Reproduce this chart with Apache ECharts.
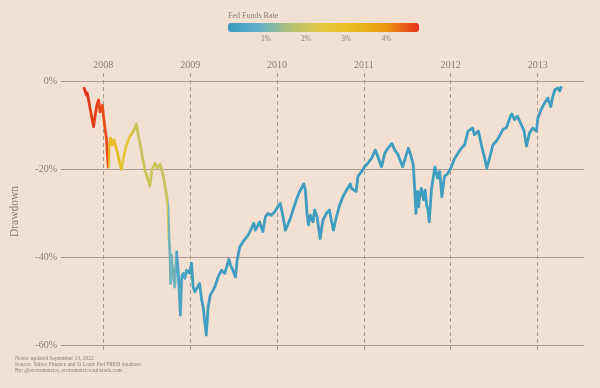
<!DOCTYPE html>
<html><head><meta charset="utf-8">
<script src="https://cdn.jsdelivr.net/npm/echarts@6/dist/echarts.min.js"></script>
<style>html,body{margin:0;padding:0;background:#f2e0d3}#c{width:600px;height:388px}</style>
</head><body><div id="c"></div>
<script>
const dates = ['2007-10-11','2007-10-22','2007-10-25','2007-10-31','2007-11-09','2007-11-14','2007-11-21','2007-11-28','2007-12-05','2007-12-12','2007-12-18','2007-12-24','2007-12-28',
'2008-01-02','2008-01-09','2008-01-14','2008-01-17','2008-01-22','2008-01-25','2008-02-01','2008-02-07','2008-02-15','2008-02-22','2008-02-29','2008-03-10','2008-03-17','2008-03-24','2008-03-31','2008-04-10','2008-04-21','2008-05-01','2008-05-12','2008-05-19','2008-05-27','2008-06-06','2008-06-13','2008-06-24','2008-07-03','2008-07-15','2008-07-23','2008-08-06','2008-08-15','2008-08-27','2008-09-05','2008-09-12','2008-09-22','2008-09-29','2008-10-03','2008-10-08','2008-10-10','2008-10-13','2008-10-16','2008-10-22','2008-10-27','2008-11-04','2008-11-11','2008-11-20','2008-11-26','2008-12-02','2008-12-09','2008-12-16','2008-12-29',
'2009-01-06','2009-01-13','2009-01-20','2009-02-09','2009-02-17','2009-02-24','2009-03-09','2009-03-17','2009-03-26','2009-04-07','2009-04-14','2009-04-28','2009-05-12','2009-05-26','2009-06-12','2009-06-19','2009-06-26','2009-07-10','2009-07-17','2009-07-28','2009-08-11','2009-08-18','2009-09-01','2009-09-15','2009-09-25','2009-10-02','2009-10-19','2009-11-02','2009-11-13','2009-11-24','2009-12-08','2009-12-22',
'2010-01-04','2010-01-14','2010-01-26','2010-02-05','2010-02-23','2010-03-09','2010-03-23','2010-04-06','2010-04-23','2010-04-30','2010-05-07','2010-05-13','2010-05-21','2010-06-01','2010-06-08','2010-06-18','2010-07-01','2010-07-13','2010-07-27','2010-08-09','2010-08-17','2010-08-26','2010-09-08','2010-09-21','2010-10-05','2010-10-20','2010-11-05','2010-11-10','2010-11-29','2010-12-07','2010-12-22',
'2011-01-04','2011-01-18','2011-02-02','2011-02-18','2011-03-01','2011-03-16','2011-03-30','2011-04-12','2011-04-29','2011-05-11','2011-05-25','2011-06-13','2011-06-24','2011-07-07','2011-07-15','2011-07-28','2011-08-03','2011-08-08','2011-08-15','2011-08-19','2011-08-24','2011-08-31','2011-09-09','2011-09-16','2011-09-22','2011-09-28','2011-10-03','2011-10-12','2011-10-27','2011-11-07','2011-11-16','2011-11-25','2011-12-06','2011-12-20',
'2012-01-04','2012-01-18','2012-02-01','2012-02-15','2012-02-29','2012-03-14','2012-04-02','2012-04-10','2012-04-27','2012-05-09','2012-05-23','2012-06-01','2012-06-13','2012-06-27','2012-07-11','2012-07-25','2012-08-08','2012-08-22','2012-09-06','2012-09-14','2012-09-26','2012-10-08','2012-10-24','2012-11-05','2012-11-15','2012-11-28','2012-12-12','2012-12-27',
'2013-01-02','2013-01-16','2013-01-30','2013-02-13','2013-02-25','2013-03-06','2013-03-15','2013-03-27','2013-04-04','2013-04-11'];
const drawdown = [-1.4,-3.2,-2.7,-4.3,-7.0,-8.5,-10.4,-7.7,-5.5,-4.3,-7.0,-7.3,-5.5,
-8.1,-11.1,-13.0,-15.7,-19.6,-14.9,-13.0,-14.5,-13.4,-14.9,-16.1,-18.7,-20.1,-18.0,-16.1,-14.2,-12.7,-11.9,-10.8,-9.8,-12.3,-14.9,-17.2,-20.2,-21.7,-23.9,-20.2,-18.7,-19.8,-18.9,-20.6,-22.5,-25.5,-28.6,-35.4,-39.9,-46.0,-39.5,-41.5,-44.0,-46.8,-38.8,-43.0,-53.2,-44.5,-43.7,-44.8,-43.0,-43.7,
-41.4,-46.8,-47.9,-46.0,-49.5,-51.3,-57.7,-51.3,-48.6,-47.5,-46.8,-44.5,-43.0,-43.7,-40.5,-41.8,-42.6,-44.5,-40.7,-37.7,-36.5,-36.9,-35.0,-33.5,-32.3,-33.9,-32.0,-34.2,-30.8,-30.1,-30.5,-29.7,
-28.6,-27.8,-30.8,-33.9,-31.6,-29.3,-27.0,-25.1,-23.4,-24.8,-30.1,-32.7,-30.5,-32.0,-29.3,-30.8,-35.8,-31.6,-30.1,-29.3,-31.6,-33.9,-30.8,-28.2,-26.3,-24.8,-23.4,-24.4,-25.1,-21.7,-20.6,
-19.5,-18.7,-17.6,-15.7,-17.2,-19.5,-16.4,-15.3,-14.2,-15.7,-16.8,-19.5,-17.6,-15.3,-16.4,-19.1,-24.8,-30.1,-25.1,-28.6,-26.0,-24.4,-27.0,-24.8,-28.2,-29.3,-32.0,-24.8,-19.5,-22.1,-20.6,-26.3,-21.7,-21.0,
-19.5,-17.6,-16.4,-15.3,-14.5,-11.4,-10.7,-12.2,-11.4,-14.5,-17.5,-19.8,-17.5,-14.5,-13.7,-12.5,-11.0,-10.7,-8.4,-7.5,-8.8,-8.0,-9.9,-11.4,-14.8,-11.8,-10.7,-11.4,
-8.4,-6.5,-5.0,-3.9,-5.8,-3.5,-2.0,-1.6,-2.3,-1.2];

const rateStarts = ['2007-07-01','2007-11-01','2007-12-11','2008-01-22','2008-01-30','2008-03-18','2008-04-30','2008-09-29','2008-11-01','2008-12-16'];
const rateValues = [4.8,4.7,4.6,3.5,3.0,2.4,2.0,1.0,0.4,0.15];

const yearTicks = ['2008-01-01','2009-01-01','2010-01-01','2011-01-01','2012-01-01','2013-01-01'];
const yTicks = [0,-20,-40,-60];
const rateTicks = [1,2,3,4];
const rateMin = 0.057, rateMax = 4.81;

const palette = ['#3a9bbf','#63b0cb','#b5c274','#e4c73c','#e8bb1e','#ec9514','#e6311c'];
const txt = '#8d8079', gridCol = '#aa9b93', font = 'Liberation Serif';

const ts = s => Date.UTC(+s.slice(0,4), +s.slice(5,7)-1, +s.slice(8,10));
function hex(h){return [1,3,5].map(i=>parseInt(h.slice(i,i+2),16));}
function rateColor(r){
  let t = Math.max(0, Math.min(1, (r-rateMin)/(rateMax-rateMin))) * (palette.length-1);
  const i = Math.min(Math.floor(t), palette.length-2), f = t - i;
  const a = hex(palette[i]), b = hex(palette[i+1]);
  return 'rgb(' + a.map((v,k)=>Math.round(v+(b[k]-v)*f)).join(',') + ')';
}
const pieces = rateStarts.map((d,i)=>{
  const p = {color: rateColor(rateValues[i])};
  if (i > 0) p.gte = ts(d);
  if (i < rateStarts.length-1) p.lt = ts(rateStarts[i+1]);
  return p;
});

const chart = echarts.init(document.getElementById('c'), null, {renderer:'canvas'});
chart.setOption({
  animation: false,
  backgroundColor: '#f2e0d3',
  textStyle: {fontFamily: font},
  grid: [
    {left: 61, right: 16, top: 73, bottom: 38},
    {left: 228, width: 191, top: 23, height: 9}
  ],
  xAxis: [{
    type: 'value', gridIndex: 0, position: 'top',
    min: ts('2007-07-07'), max: ts('2013-07-15'),
    axisLine: {show: false},
    axisTick: {show: false, customValues: yearTicks.map(ts)},
    axisLabel: {customValues: yearTicks.map(ts), color: txt, fontSize: 10, fontFamily: font, margin: 3,
      formatter: v => String(new Date(v).getUTCFullYear())},
    splitLine: {show: true, lineStyle: {color: gridCol, width: 1, type: [4,3]}}
  }, {
    type: 'value', gridIndex: 1, min: rateMin, max: rateMax,
    axisLine: {show: false}, axisTick: {show: false, customValues: rateTicks},
    splitLine: {show: false},
    axisLabel: {customValues: rateTicks, color: txt, fontSize: 7.5, fontFamily: font, margin: 3, formatter: v => v + '%'}
  }],
  yAxis: [{
    type: 'value', gridIndex: 0, min: -61.1, max: 1.8,
    name: 'Drawdown', nameLocation: 'middle', nameGap: 40,
    nameTextStyle: {color: txt, fontSize: 11.5, fontFamily: font},
    axisLine: {show: false},
    axisTick: {show: false, customValues: yTicks},
    axisLabel: {customValues: yTicks, color: txt, fontSize: 10, fontFamily: font, margin: 4, formatter: v => v + '%'},
    splitLine: {show: true, lineStyle: {color: gridCol, width: 1}}
  }, {
    type: 'value', gridIndex: 1, show: false, min: 0, max: 1
  }],
  visualMap: [{
    type: 'continuous', seriesIndex: 1, dimension: 0,
    min: rateMin, max: rateMax, orient: 'horizontal',
    left: 228, top: 23, itemWidth: 9, itemHeight: 191, padding: 0,
    calculable: false, hoverLink: false,
    inRange: {color: palette}
  }, {
    type: 'piecewise', show: false, seriesIndex: 0, dimension: 0,
    pieces: pieces
  }],
  graphic: [
    {type: 'text', left: 228, top: 12, style: {text: 'Fed Funds Rate', fill: txt, font: '8px "Liberation Serif"'}},
    {type: 'text', left: 15, top: 355.5, style: {
      text: 'Notes: updated September 13, 2022\nSource: Yahoo Finance and St Louis Fed FRED database\nBy: @economatrics, economatrics.substack.com',
      fill: txt, font: '5.5px "Liberation Serif"', lineHeight: 5.8}}
  ],
  series: [{
    type: 'line', xAxisIndex: 0, yAxisIndex: 0,
    data: dates.map((d,i)=>[ts(d), drawdown[i]]),
    showSymbol: false, symbol: 'none',
    lineStyle: {width: 2.8, join: 'round'},
    z: 3
  }, {
    type: 'scatter', xAxisIndex: 1, yAxisIndex: 1, data: []
  }]
});
</script></body></html>
